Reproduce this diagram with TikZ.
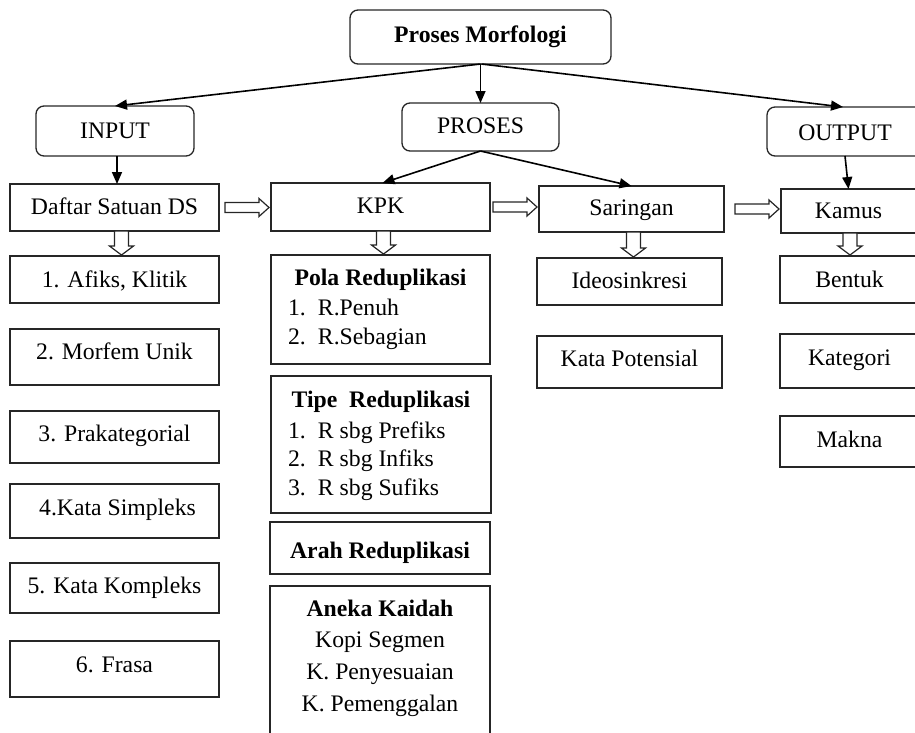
\documentclass[tikz,border=0pt]{standalone}
\usepackage{fontspec}
\setmainfont{Liberation Serif}
\usetikzlibrary{arrows.meta,calc}
\newcommand{\fs}{\fontsize{23.7pt}{28pt}\selectfont}
\newcommand{\mkbox}[8][]{%
  \node[boxst,#1,minimum width={#5-#3},minimum height={#6-#4}] (#2) at ({(#3+#5)/2},{(#4+#6)/2}) {};
  \node[txt] (#2-t) at ({(#3+#5)/2},#7) {#8};}
\newcommand{\harw}[2]{\draw[hol] let \p1=(#1), \p2=(#2) in
 (\x2-46pt,\y1+5pt) -- (\x2-12pt,\y1+5pt) -- (\x2-12pt,\y1+9pt) -- (\x2-2pt,\y1) -- (\x2-12pt,\y1-9pt) -- (\x2-12pt,\y1-5pt) -- (\x2-46pt,\y1-5pt) -- cycle;}
\newcommand{\varw}[3]{\draw[hol] let \p1=(#1), \p2=(#2) in
 (\x1+#3-7pt,\y1) -- (\x1+#3-7pt,\y2+10pt) -- (\x1+#3-12pt,\y2+10pt) -- (\x1+#3,\y2+1pt) -- (\x1+#3+12pt,\y2+10pt) -- (\x1+#3+7pt,\y2+10pt) -- (\x1+#3+7pt,\y1) -- cycle;}
\tikzset{
 boxst/.style={draw=black!85, line width=1.3pt, rectangle, inner sep=0pt, outer sep=0pt},
 rnd/.style={rounded corners=8pt},
 txt/.style={anchor=base, font=\fs, inner sep=0pt, outer sep=0pt},
 arr/.style={draw=black, line width=1.6pt, -{Triangle[length=12pt,width=10pt]}},
 hol/.style={draw=black!85, line width=1.2pt, fill=white},
}
\begin{document}
\begin{tikzpicture}[x=1pt,y=-1pt]
\useasboundingbox (0,0) rectangle (915,732);
\clip (0,0) rectangle (915,732);
% top level
\mkbox[rnd]{top}{350}{10}{611}{64}{42}{\bfseries Proses Morfologi}
\mkbox[rnd]{input}{36}{106}{194}{156}{138}{INPUT}
\mkbox[rnd]{proses}{402}{103}{559}{151}{133}{PROSES}
\mkbox[rnd]{output}{767}{107}{923}{156}{140}{OUTPUT}
% second level
\mkbox{daftar}{10}{184}{219}{231}{214}{Daftar Satuan DS}
\mkbox{kpk}{271}{183}{490}{231}{213}{KPK}
\mkbox{saringan}{539}{186}{724}{232}{215}{Saringan}
\mkbox{kamus}{781}{189}{916}{233}{218}{Kamus}
% left column
\mkbox{afiks}{10}{256}{219}{303}{287}{1. Afiks, Klitik}
\mkbox{morfem}{10}{329}{219}{385}{359}{2. Morfem Unik}
\mkbox{prakat}{10}{411}{219}{463}{441}{3. Prakategorial}
\mkbox{simpleks}{10}{484}{219}{538}{515}{\hspace{6pt}4.Kata Simpleks}
\mkbox{kompleks}{10}{563}{219}{613}{593}{5. Kata Kompleks}
\mkbox{frasa}{10}{641}{219}{697}{672}{6. Frasa}
% KPK column
\mkbox{pola}{271}{255}{490}{364}{285}{\bfseries Pola Reduplikasi}
\node[txt,anchor=base west] (pola1) at (288,315) {\makebox[30pt][l]{1.}R.Penuh};
\node[txt,anchor=base west] (pola2) at (288,344) {\makebox[30pt][l]{2.}R.Sebagian};
\mkbox{tipe}{271}{376}{491}{513}{407}{\bfseries Tipe\ \ Reduplikasi}
\node[txt,anchor=base west] (tipe1) at (288,438) {\makebox[30pt][l]{1.}R sbg Prefiks};
\node[txt,anchor=base west] (tipe2) at (288,466) {\makebox[30pt][l]{2.}R sbg Infiks};
\node[txt,anchor=base west] (tipe3) at (288,495) {\makebox[30pt][l]{3.}R sbg Sufiks};
\mkbox{arah}{270}{522}{490}{574}{558}{\bfseries Arah Reduplikasi}
\mkbox{aneka}{270}{586}{490}{745}{616}{\bfseries Aneka Kaidah}
\node[txt] (aneka1) at (380,647) {Kopi Segmen};
\node[txt] (aneka2) at (380,679) {K. Penyesuaian};
\node[txt] (aneka3) at (380,711) {K. Pemenggalan};
% Saringan column
\mkbox{ideo}{537}{258}{722}{305}{288}{Ideosinkresi}
\mkbox{potensial}{537}{336}{722}{388}{366}{Kata Potensial}
% Kamus column
\mkbox{bentuk}{780}{256}{919}{303}{287}{Bentuk}
\mkbox{kategori}{780}{334}{919}{388}{365}{Kategori}
\mkbox{makna}{780}{416}{919}{467}{447}{Makna}
% arrows
\draw[arr] (top.south) -- (input.north);
\draw[arr] (top.south) -- (proses.north);
\draw[arr] ([xshift=1pt]top.south) -- ([xshift=-2pt]output.north);
\draw[arr] (proses.south) -- ([xshift=2pt]kpk.north);
\draw[arr] (proses.south) -- (saringan.north);
\draw[arr] ([xshift=2pt]input.south) -- ([xshift=2.5pt]daftar.north);
\draw[arr] (output.south) -- (kamus.north);
% hollow arrows
\harw{daftar.east}{kpk.west}
\harw{kpk.east}{saringan.west}
\harw{saringan.east}{kamus.west}
\varw{daftar.south}{afiks.north}{7pt}
\varw{kpk.south}{pola.north}{3pt}
\varw{saringan.south}{ideo.north}{2pt}
\varw{kamus.south}{bentuk.north}{1.5pt}
\end{tikzpicture}
\end{document}
